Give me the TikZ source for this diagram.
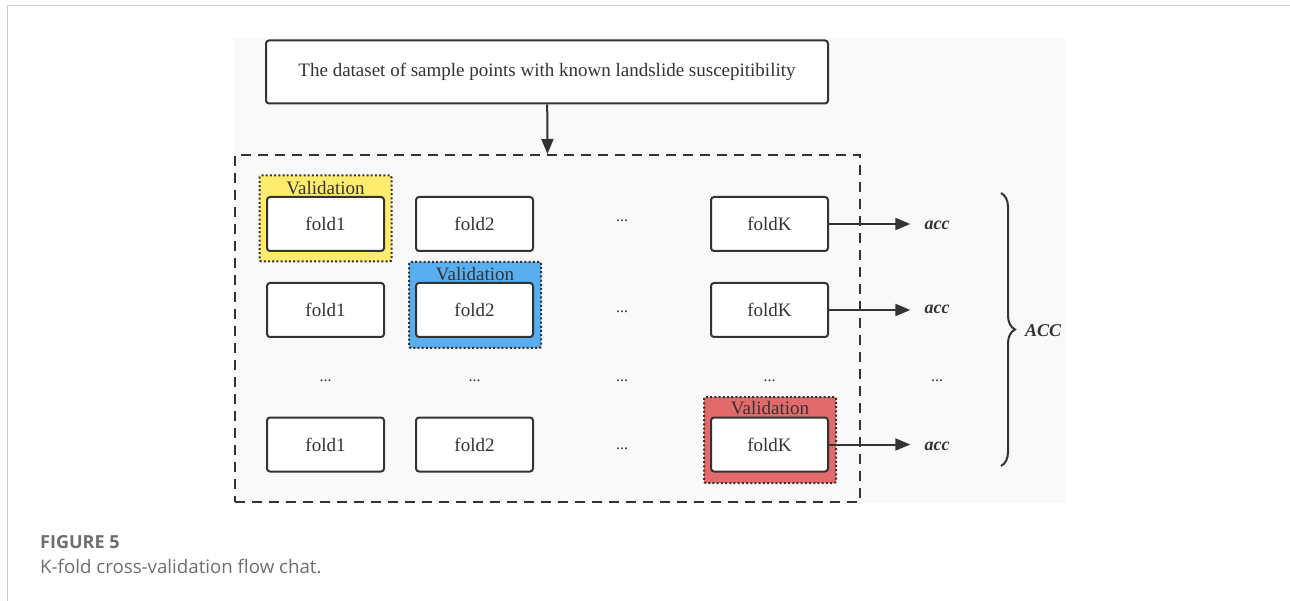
\documentclass[tikz,border=0pt]{standalone}
\usepackage{fontspec}
\setmainfont{Liberation Serif}
\newfontfamily\capfont{Open Sans}
\usetikzlibrary{arrows.meta,decorations.pathreplacing}

\definecolor{linegray}{HTML}{333333}
\definecolor{bggray}{HTML}{F9F9F9}
\definecolor{framegray}{HTML}{CCCCCC}
\definecolor{valyellow}{HTML}{FFEB6E}
\definecolor{valblue}{HTML}{58AEEE}
\definecolor{valred}{HTML}{E26A6A}
\definecolor{capgray}{HTML}{6E6E6E}

\begin{document}
\begin{tikzpicture}[x=1pt,y=-1pt,
		fold/.style={draw=linegray,line width=2pt,rounded corners=3pt,fill=white,text=linegray,minimum width=117pt,minimum height=54pt,inner sep=0pt,font=\fontsize{19}{22}\selectfont},
		validbox/.style={draw=linegray,line width=2pt,dash pattern=on 2pt off 2.2pt,rounded corners=2pt,minimum width=132pt,minimum height=86pt,inner sep=0pt},
		vtext/.style={text=linegray,inner sep=0pt,font=\fontsize{19}{22}\selectfont},
		dotsnode/.style={text=linegray,inner sep=0pt,font=\fontsize{16}{18}\selectfont},
		acc/.style={text=linegray,inner xsep=14pt,inner ysep=0pt,font=\fontsize{18}{20}\selectfont\bfseries\itshape},
		arr/.style={draw=linegray,line width=2pt,-{Triangle[length=15pt,width=12pt]}}]
	\useasboundingbox (0,0) rectangle (1290,601);
	
	\draw[framegray,line width=1.5pt] (7.5,601) -- (7.5,5.5) -- (1290,5.5);
	\fill[bggray] (234,38) rectangle (1065,503);
	
	\node[draw=linegray,line width=2pt,rounded corners=3pt,fill=white,text=linegray,minimum width=562pt,minimum height=63pt,font=\fontsize{19}{22}\selectfont] (data) at (547,72) {The dataset of sample points with known landslide suscepitibility};
	
	\node[draw=linegray,line width=2pt,dash pattern=on 10pt off 7pt,minimum width=625pt,minimum height=347pt,inner sep=0pt] (folds) at (547.5,328.5) {};
	
	\draw[arr] (data) -- (folds.north);
	
	% validation parts
	\node[validbox,fill=valyellow] (val1) at (325.5,218.5) {};
	\node[vtext] (val1t) at (325.5,188) {Validation};
	\node[validbox,fill=valblue] (val2) at (475,305) {};
	\node[vtext] (val2t) at (475,274.5) {Validation};
	\node[validbox,fill=valred] (val3) at (770,440) {};
	\node[vtext] (val3t) at (770,408.5) {Validation};
	
	% first round
	\node[fold] (f11) at (325.5,224) {fold1};
	\node[fold] (f12) at (474.5,224) {fold2};
	\node[dotsnode] (d13) at (622,221) {...};
	\node[fold] (f1k) at (769.5,224) {foldK};
	\node[acc] (acc1) at (937,225) {acc};
	
	% second round
	\node[fold] (f21) at (325.5,310) {fold1};
	\node[fold] (f22) at (474.5,310) {fold2};
	\node[dotsnode] (d23) at (622,312) {...};
	\node[fold] (f2k) at (769.5,310) {foldK};
	\node[acc] (acc2) at (937,309) {acc};
	
	\node[dotsnode] (d31) at (325.5,381) {...};
	\node[dotsnode] (d32) at (474.5,381) {...};
	\node[dotsnode] (d33) at (622,381) {...};
	\node[dotsnode] (d34) at (769.5,381) {...};
	\node[dotsnode] (d35) at (937,381) {...};
	
	% last round
	\node[fold] (f41) at (325.5,444.5) {fold1};
	\node[fold] (f42) at (474.5,444.5) {fold2};
	\node[dotsnode] (d43) at (622,449) {...};
	\node[fold] (f4k) at (769.5,444.5) {foldK};
	\node[acc] (acc4) at (937,446) {acc};
	
	\draw[arr] (f1k) -- (f1k -| acc1.west);
	\draw[arr] (f2k) -- (f2k -| acc2.west);
	\draw[arr] (f4k) -- (f4k -| acc4.west);
	
	\coordinate (btop) at (1001,193);
	\coordinate (bbot) at (1001,466);
	\draw[linegray,line width=2pt,decorate,decoration={brace,amplitude=14pt}] (btop) -- (bbot);
	\node[text=linegray,inner sep=0pt,font=\fontsize{18}{20}\selectfont\bfseries\itshape] (accall) at (1043,331) {ACC};
	
	\node[anchor=base west,inner sep=0pt,text=capgray,font=\capfont\fontsize{18}{22}\selectfont\bfseries] (fig) at (40,548) {FIGURE 5};
	\node[anchor=base west,inner sep=0pt,text=capgray,font=\capfont\fontsize{18.7}{22}\selectfont] (cap) at (40,573) {K-fold cross-validation flow chat.};
\end{tikzpicture}
\end{document}
